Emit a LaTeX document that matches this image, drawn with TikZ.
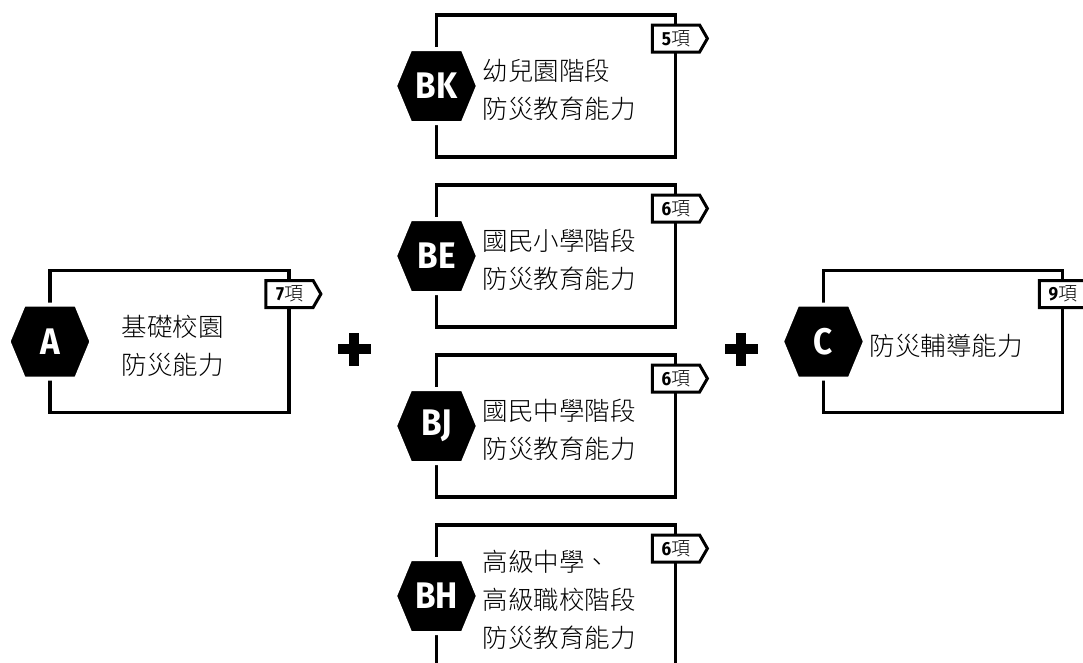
\documentclass[tikz,border=0pt]{standalone}
\usepackage{fontspec}
\newfontfamily\cjk{Noto Sans CJK TC Light}
\newfontfamily\hexfont[FakeStretch=0.9]{Fira Sans}
\usepackage{tikz}
\usetikzlibrary{calc, shapes.symbols}
\tikzset{
  frame/.style={draw, line width=3.5pt, minimum width=239pt,
    minimum height=142pt, inner sep=0pt, outer sep=0pt},
  hexa/.style={signal, signal to=east and west, signal pointer angle=135,
    fill=black, draw=white, line width=4pt, minimum width=83pt,
    minimum height=74pt, inner sep=0pt, text=white,
    font=\hexfont\bfseries\fontsize{37}{37}\selectfont},
  tag/.style={signal, signal to=east, signal pointer angle=120,
    fill=white, draw=black, line width=3pt, minimum width=55pt,
    minimum height=27pt, inner sep=0pt, font=\fontsize{19}{19}\selectfont},
  desc/.style={align=left, inner sep=0pt, xshift=3pt, yshift=-4pt,
    font=\cjk\fontsize{25.5}{38}\selectfont},
}

\begin{document}
\begin{tikzpicture}[x=1pt, y=1pt]
          \useasboundingbox (0,0) rectangle (1083,-662);
          \node[frame] (boxA) at (169.5,-341.5) {};
          \node[frame] (boxBK) at (556,-86) {};
          \node[frame] (boxBE) at (556,-256) {};
          \node[frame] (boxBJ) at (556,-426) {};
          \node[frame] (boxBH) at (556,-596) {};
          \node[frame] (boxC) at (943,-341.5) {};
          \node[hexa] (hexA) at (boxA.west) {A};
          \node[hexa] (hexBK) at (boxBK.west) {BK};
          \node[hexa] (hexBE) at (boxBE.west) {BE};
          \node[hexa] (hexBJ) at (boxBJ.west) {BJ};
          \node[hexa] (hexBH) at (boxBH.west) {BH};
          \node[hexa] (hexC) at (boxC.west) {C};
          \node[tag] (tagA) at ($(boxA.north east)+(0.5,-23.5)$)
            {{\hexfont\bfseries 7}{\cjk 項}};
          \node[tag] (tagBK) at ($(boxBK.north east)+(0.5,-23.5)$)
            {{\hexfont\bfseries 5}{\cjk 項}};
          \node[tag] (tagBE) at ($(boxBE.north east)+(0.5,-23.5)$)
            {{\hexfont\bfseries 6}{\cjk 項}};
          \node[tag] (tagBJ) at ($(boxBJ.north east)+(0.5,-23.5)$)
            {{\hexfont\bfseries 6}{\cjk 項}};
          \node[tag] (tagBH) at ($(boxBH.north east)+(0.5,-23.5)$)
            {{\hexfont\bfseries 6}{\cjk 項}};
          \node[tag] (tagC) at ($(boxC.north east)+(0.5,-23.5)$)
            {{\hexfont\bfseries 9}{\cjk 項}};
          \node[desc] (txtA) at (boxA) {基礎校園\\防災能力};
          \node[desc] (txtBK) at (boxBK) {幼兒園階段\\防災教育能力};
          \node[desc] (txtBE) at (boxBE) {國民小學階段\\防災教育能力};
          \node[desc] (txtBJ) at (boxBJ) {國民中學階段\\防災教育能力};
          \node[desc] (txtBH) at (boxBH) {高級中學、\\高級職校階段\\防災教育能力};
          \node[desc] (txtC) at (boxC) {防災輔導能力};
          \coordinate (plusL) at (354,-349);
          \coordinate (plusR) at (741,-349);
          \fill ($(plusL)+(-16.5,-5)$) rectangle ($(plusL)+(16.5,5)$);
          \fill ($(plusL)+(-5,-16.5)$) rectangle ($(plusL)+(5,16.5)$);
          \fill ($(plusR)+(-16.5,-5)$) rectangle ($(plusR)+(16.5,5)$);
          \fill ($(plusR)+(-5,-16.5)$) rectangle ($(plusR)+(5,16.5)$);
        \end{tikzpicture}
\end{document}
